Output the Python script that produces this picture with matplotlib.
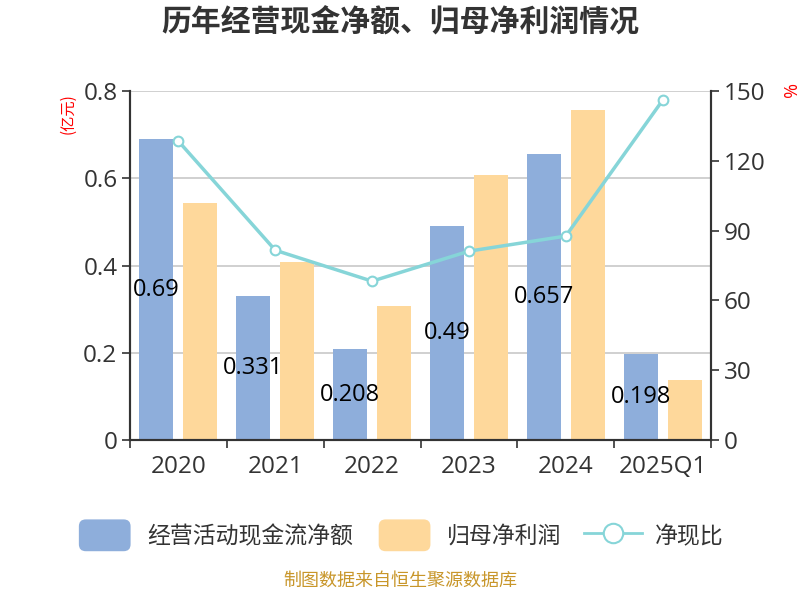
import matplotlib
matplotlib.use('Agg')
import matplotlib.pyplot as plt
import numpy as np
from matplotlib.lines import Line2D
from matplotlib.patches import FancyBboxPatch, Patch
from matplotlib.legend_handler import HandlerPatch

plt.rcParams['font.family'] = ['Open Sans', 'Noto Sans CJK SC', 'DejaVu Sans']
CJK = ['Noto Sans CJK SC', 'DejaVu Sans']

years = ['2020', '2021', '2022', '2023', '2024', '2025Q1']
cash_flow = [0.69, 0.331, 0.208, 0.49, 0.657, 0.198]
net_profit = [0.543, 0.408, 0.307, 0.608, 0.757, 0.138]
ratio = [128.5, 81.6, 68.3, 81.2, 87.7, 146.1]

blue = '#8eaedb'
orange = '#fed89b'
cyan = '#86d5d8'


class RoundBox(HandlerPatch):
    def create_artists(self, legend, orig_handle, xdescent, ydescent, width, height, fontsize, trans):
        # 圆角色块，比默认的图例块稍高
        p = FancyBboxPatch((-xdescent + 2, -ydescent - 3), width - 4, height + 6,
                           boxstyle='round,pad=0,rounding_size=5',
                           facecolor=orig_handle.get_facecolor(), edgecolor='none',
                           transform=trans)
        return [p]


fig = plt.figure(figsize=(8, 6), dpi=100)
ax = fig.add_axes([0.1625, 0.2667, 0.7263, 0.5813])
ax2 = ax.twinx()

x = np.arange(len(years))
w = 0.35
off = 0.227
ax.bar(x - off, cash_flow, w, color=blue, zorder=2)
ax.bar(x + off, net_profit, w, color=orange, zorder=2)
for xi, v in zip(x, cash_flow):
    ax.text(xi - off, v / 2, f'{v:g}', ha='center', va='center', fontsize=17,
            color='black', zorder=5)

ax2.plot(x, ratio, color=cyan, lw=2.5, marker='o', ms=7, mfc='white',
         mec=cyan, mew=1.5, zorder=4)

ax.set_xlim(-0.5, len(years) - 0.5)
ax.set_ylim(0, 0.8)
ax.set_yticks([0, 0.2, 0.4, 0.6, 0.8])
ax.set_yticklabels(['0', '0.2', '0.4', '0.6', '0.8'])
ax2.set_ylim(0, 150)
ax2.set_yticks([0, 30, 60, 90, 120, 150])

ax.set_xticks(x)
ax.set_xticklabels(years)
ax.set_xticks(np.arange(-0.5, len(years)), minor=True)
ax.tick_params(axis='x', which='major', length=0, pad=11)
ax.tick_params(axis='x', which='minor', length=6, width=1.2, color='#333333', direction='out')

for a in (ax, ax2):
    a.tick_params(axis='y', length=6, width=1.2, color='#333333', labelsize=17.5,
                  labelcolor='#333333', direction='out', pad=3)
    a.spines['top'].set_visible(False)
    for s in ('left', 'right', 'bottom'):
        a.spines[s].set_color('#333333')
        a.spines[s].set_linewidth(1.5)
ax.tick_params(axis='x', labelsize=17.5, labelcolor='#333333')
ax.grid(axis='y', color='#c8c8c8', lw=1.2, zorder=0)
ax.set_axisbelow(True)
ax2.set_zorder(ax.get_zorder() + 1)
ax2.patch.set_visible(False)

fig.text(0.085, 0.81, '(亿元)', rotation=90, color='red', fontsize=11, ha='center',
         va='center', family=CJK)
fig.text(0.984, 0.85, '%', rotation=-90, color='red', fontsize=13, ha='center', va='center')

fig.text(0.5, 0.962, '历年经营现金净额、归母净利润情况', fontsize=21.5, fontweight='bold',
         color='#333333', ha='center', va='center', family=CJK)

handles = [Patch(facecolor=blue, label='经营活动现金流净额'),
           Patch(facecolor=orange, label='归母净利润'),
           Line2D([0], [0], color=cyan, lw=2, marker='o', ms=14, mfc='white',
                  mec=cyan, mew=1.5, label='净现比')]
leg = fig.legend(handles=handles, loc='center', bbox_to_anchor=(0.5, 0.107), ncol=3,
                 frameon=False, handlelength=2.5, handleheight=1.2,
                 columnspacing=1.0, handletextpad=0.6, labelcolor='#333333',
                 handler_map={Patch: RoundBox()}, prop={'family': CJK, 'size': 16.5})

fig.text(0.5, 0.018, '制图数据来自恒生聚源数据库', color='#c8962a', fontsize=13,
         ha='center', va='bottom', family=CJK)

fig.savefig('out.png', dpi=100)
